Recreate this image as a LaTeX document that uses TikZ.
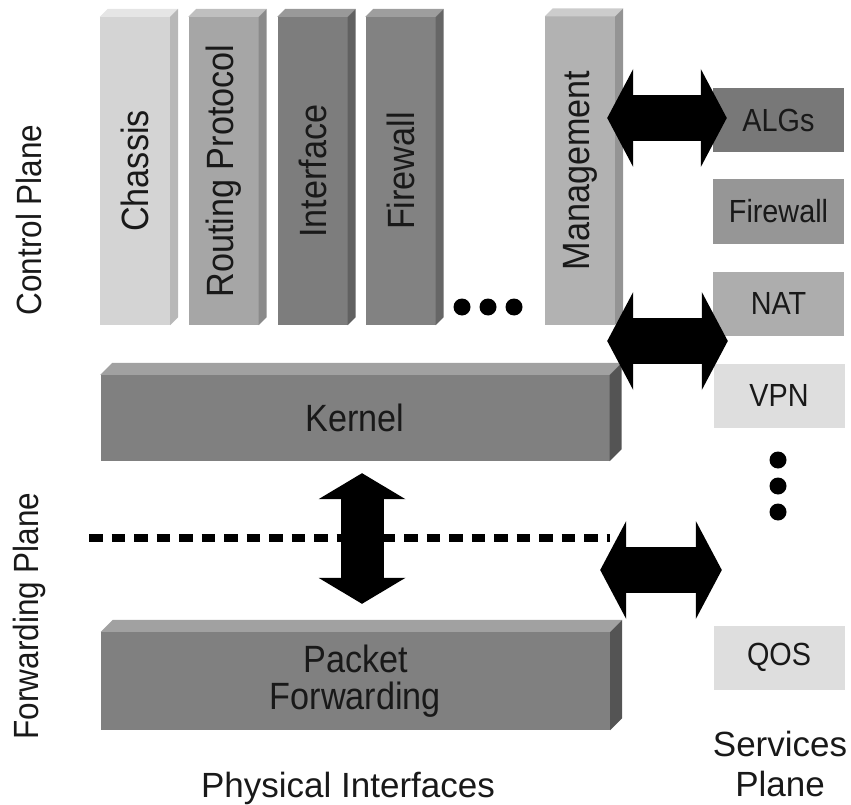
\documentclass[tikz,border=0pt]{standalone}
\usepackage{fontspec}
\setmainfont{Liberation Sans}
\newfontfamily\condsf[FakeStretch=0.9]{Liberation Sans}
\usetikzlibrary{arrows.meta}
\definecolor{inkc}{gray}{0.1}
\tikzset{
  % --- front faces of the bars ------------------------------------------------
  face/.style={draw=none,inner sep=0pt,text=inkc},
  col/.style={face,minimum width=70pt,minimum height=308pt},
  collab/.style={rotate=90,text=inkc,font=\condsf\fontsize{38}{44}\selectfont},
  slab/.style={face,minimum width=509pt,align=center,
               font=\condsf\fontsize{38}{37}\selectfont},
  % --- services plane ---------------------------------------------------------
  svc/.style={face,minimum width=131pt,minimum height=64pt,
              font=\condsf\fontsize{32}{36}\selectfont},
  dot/.style={circle,fill=black,inner sep=0pt,minimum size=17pt},
  % --- plane labels -----------------------------------------------------------
  sidelab/.style={rotate=90,text=inkc,font=\condsf\fontsize{35}{40}\selectfont},
  baselab/.style={text=inkc,align=center,font=\fontsize{35}{40}\selectfont},
  % --- block arrows and the plane boundary ------------------------------------
  harrow/.style={line width=46pt,>={Triangle[length=26pt,width=98pt,line width=0pt]},<->},
  varrow/.style={line width=43pt,>={Triangle[length=26pt,width=87pt,line width=0pt]},<->},
  bound/.style={line width=8pt,dash pattern=on 13.5pt off 9pt},
}
% top and side faces of a bar: node, depth, top colour, side colour
\newcommand\boxfaces[4]{%
  \fill[#3] (#1.north west) -- ++(#2,#2) -- ([shift={(#2,#2)}]#1.north east)
    -- (#1.north east) -- cycle;
  \fill[#4] (#1.north east) -- ++(#2,#2) -- ([shift={(#2,#2)}]#1.south east)
    -- (#1.south east) -- cycle;}
\begin{document}
\begin{tikzpicture}[x=1pt, y=-1pt]
  \useasboundingbox (0,0) rectangle (851,805);

  % control plane daemons
  \node[col,fill=black!17,label={[collab]center:Chassis}]          (chassis) at (135,171)   {};
  \node[col,fill=black!35,label={[collab]center:Routing Protocol}] (rpd)     at (223.5,171) {};
  \node[col,fill=black!51,label={[collab]center:Interface}]        (intf)    at (312.5,171) {};
  \node[col,fill=black!49,label={[collab]center:Firewall}]         (fwd)     at (400.5,171) {};
  \node[col,fill=black!30,label={[collab]center:Management}]       (mgmt)    at (580,170.5) {};
  \boxfaces{chassis}{8pt}{black!10}{black!28}
  \boxfaces{rpd}{8pt}{black!25}{black!46}
  \boxfaces{intf}{8pt}{black!40}{black!62}
  \boxfaces{fwd}{8pt}{black!38}{black!60}
  \boxfaces{mgmt}{8pt}{black!20}{black!42}
  \foreach \x/\n in {462/1,488/2,514/3}
    \node[dot] (hd\n) at (\x,307) {};

  % kernel and packet forwarding engine
  \node[slab,fill=black!50,minimum height=86pt] (kernel) at (355,418)   {Kernel};
  \node[slab,fill=black!50,minimum height=98pt] (pfe)    at (355.5,681) {Packet\\Forwarding};
  \boxfaces{kernel}{12pt}{black!37}{black!67}
  \boxfaces{pfe}{12pt}{black!37}{black!67}

  % services plane
  \node[svc,fill=black!53] (algs)  at (778.5,120)   {ALGs};
  \node[svc,fill=black!41] (svcfw) at (778.5,211.5) {Firewall};
  \node[svc,fill=black!32] (nat)   at (778.5,303.5) {NAT};
  \node[svc,fill=black!13] (vpn)   at (779,395.5)   {VPN};
  \node[svc,fill=black!13] (qos)   at (779,657.5)   {QOS};
  \foreach \y/\n in {460/1,486/2,512/3}
    \node[dot] (vd\n) at (778,\y) {};

  % plane labels
  \node[sidelab] (ctrl)  at (29,220) {Control Plane};
  \node[sidelab] (fwdp)  at (29,616) {Forwarding Plane};
  \node[baselab,anchor=base] (phys) at (348,797) {Physical Interfaces};
  \node[baselab] (svcp)  at (780,764) {Services\\Plane};

  % boundary between control and forwarding
  \draw[bound] (89,538) -- (610,538);

  \draw[harrow,shorten <=-8pt,shorten >=-14pt] (mgmt.east |- 0,118) -- (algs.west |- 0,118);
  \draw[harrow,shorten <=-2.5pt,shorten >=-15pt] (kernel.east |- 0,341) -- (nat.west |- 0,341);
  \draw[harrow,shorten <=-10pt,shorten >=-8.5pt] (pfe.east |- 0,570) -- (qos.west |- 0,570);
  \draw[varrow,shorten <=12pt,shorten >=28pt] (kernel.south -| 362,0) -- (pfe.north -| 362,0);
\end{tikzpicture}
\end{document}
